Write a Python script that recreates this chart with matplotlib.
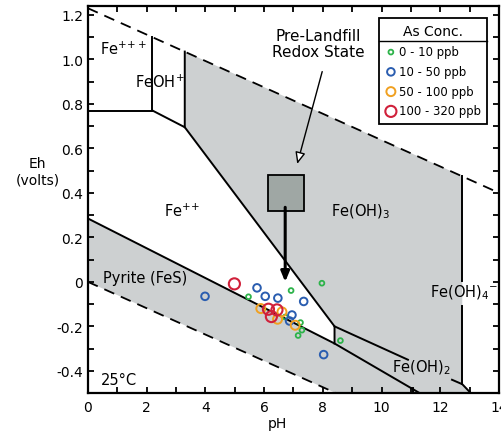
import numpy as np
import matplotlib
matplotlib.use("Agg")
import matplotlib.pyplot as plt
from matplotlib.lines import Line2D
from matplotlib.patches import Rectangle
from matplotlib.transforms import IdentityTransform

plt.rcParams['font.family'] = ['DejaVu Sans']
plt.rcParams['font.size'] = 10
plt.rcParams['axes.unicode_minus'] = False

# stability field boundaries (pH, Eh)
water_hi_ph = [0, 14]
water_hi_eh = [1.23, 0.40]
water_lo_ph = [0, 8.45]
water_lo_eh = [0.0, -0.5]

fe3_ph = [0, 2.2, 2.2]
fe3_eh = [0.77, 0.77, 1.10]
feoh_ph = [2.2, 3.3, 3.3]
feoh_eh = [0.77, 0.695, 1.035]
fe2_ph = [3.3, 8.4, 8.4]
fe2_eh = [0.695, -0.20, -0.277]
pyrite_ph = [0, 8.4, 11.3]
pyrite_eh = [0.285, -0.277, -0.5]
feoh2_a_ph = [8.4, 10.9]
feoh2_a_eh = [-0.20, -0.35]
feoh2_b_ph = [12.4, 12.75, 13.04]
feoh2_b_eh = [-0.44, -0.46, -0.5]
feoh4_lo_ph = [12.75, 12.75]
feoh4_lo_eh = [-0.46, -0.11]
feoh4_hi_ph = [12.75, 12.75]
feoh4_hi_eh = [0.005, 0.475]
small_ph = [11.06, 11.06]
small_eh = [-0.478, -0.5]

# shaded (solid phase) region
grey_ph = [3.3, 12.75, 12.75, 13.04, 8.45, 0, 0, 8.4, 8.4, 3.3]
grey_eh = [1.035, 0.475, -0.46, -0.5, -0.5, 0.0, 0.285, -0.277, -0.20, 0.695]

# pre-landfill redox box
box_ph = [6.15, 7.35]
box_eh = [0.32, 0.48]

# arsenic samples
green_ph = [5.47, 6.92, 7.97, 6.72, 7.24, 7.29, 7.16, 8.60]
green_eh = [-0.067, -0.039, -0.006, -0.158, -0.183, -0.217, -0.241, -0.264]
blue_ph = [3.99, 5.76, 6.04, 6.47, 7.35, 6.95, 6.87, 8.03]
blue_eh = [-0.065, -0.027, -0.065, -0.073, -0.088, -0.149, -0.176, -0.327]
orange_ph = [5.89, 6.61, 6.46, 7.06]
orange_eh = [-0.120, -0.135, -0.168, -0.195]
red_ph = [4.99, 6.15, 6.44, 6.25]
red_eh = [-0.009, -0.123, -0.126, -0.156]

fig = plt.figure(figsize=(5.02, 4.35), dpi=100)
ax = fig.add_axes([0.175, 0.094, 0.819, 0.890])

grey = '#cdd0d1'
ax.fill(grey_ph, grey_eh, color=grey, lw=0, zorder=1)

dash = dict(color='black', lw=1.3, ls=(0, (6, 4)), zorder=3)
ax.plot(water_hi_ph, water_hi_eh, **dash)
ax.plot(water_lo_ph, water_lo_eh, **dash)

solid = dict(color='black', lw=1.4, zorder=3, solid_joinstyle='miter')
for xs, ys in [(fe3_ph, fe3_eh), (feoh_ph, feoh_eh), (fe2_ph, fe2_eh),
               (pyrite_ph, pyrite_eh), (feoh2_a_ph, feoh2_a_eh),
               (feoh2_b_ph, feoh2_b_eh), (feoh4_lo_ph, feoh4_lo_eh),
               (feoh4_hi_ph, feoh4_hi_eh), (small_ph, small_eh)]:
    ax.plot(xs, ys, **solid)

# redox box + arrow
ax.add_patch(Rectangle((box_ph[0], box_eh[0]), box_ph[1] - box_ph[0], box_eh[1] - box_eh[0],
                       facecolor='#9fa7a4', edgecolor='black', lw=1.3, zorder=4))
ax.annotate('', xy=(6.72, 0.0), xytext=(6.72, 0.335),
            arrowprops=dict(arrowstyle='-|>,head_length=0.6,head_width=0.25',
                            color='black', lw=2.2, shrinkA=0, shrinkB=0), zorder=5)
ax.text(7.85, 1.07, 'Pre-Landfill\nRedox State', ha='center', va='center',
        fontsize=11, linespacing=1.05, zorder=5)
ax.annotate('', xy=(7.13, 0.53), xytext=(7.98, 0.945),
            arrowprops=dict(arrowstyle='-|>,head_length=0.7,head_width=0.3',
                            fc='white', ec='black', lw=1.0, shrinkA=0, shrinkB=0),
            zorder=5)

# samples
kw = dict(facecolors='none', zorder=6)
ax.scatter(green_ph, green_eh, s=12, edgecolors='#2db34a', linewidths=1.3, label='0 - 10 ppb', **kw)
ax.scatter(blue_ph, blue_eh, s=30, edgecolors='#2a5db0', linewidths=1.4, label='10 - 50 ppb', **kw)
ax.scatter(orange_ph, orange_eh, s=42, edgecolors='#f0a020', linewidths=1.4, label='50 - 100 ppb', **kw)
ax.scatter(red_ph, red_eh, s=64, edgecolors='#d0203a', linewidths=1.5, label='100 - 320 ppb', **kw)

# field labels
lab = dict(fontsize=10.5, va='center')
ax.text(0.42, 1.05, r'Fe$^{+\!+\!+}$', ha='left', **lab)
ax.text(2.46, 0.90, 'FeOH$^{+}$', ha='center', **lab)
ax.text(3.2, 0.32, r'Fe$^{+\!+}$', ha='center', **lab)
ax.text(9.3, 0.32, 'Fe(OH)$_3$', ha='center', **lab)
ax.text(0.5, 0.02, 'Pyrite (FeS)', ha='left', **lab)
ax.text(11.65, -0.045, 'Fe(OH)$_4$$^{-}$', ha='left', **lab)
ax.text(10.37, -0.38, 'Fe(OH)$_2$', ha='left', **lab)
ax.text(0.45, -0.44, '25°C', ha='left', **lab)

ax.set_xlim(0, 14)
ax.set_ylim(-0.5, 1.24)
ax.set_xticks(np.arange(0, 15, 2))
ax.set_xticks(np.arange(1, 14, 2), minor=True)
yt = np.round(np.arange(-0.4, 1.21, 0.2), 1)
ax.set_yticks(yt)
ax.set_yticklabels(['0' if abs(v) < 1e-9 else f'{v:.1f}' for v in yt])
ax.set_yticks(np.round(np.arange(-0.5, 1.21, 0.1), 1), minor=True)
ax.tick_params(which='both', direction='in', top=True, right=True, length=4, width=1.3,
               labelsize=10)
ax.tick_params(axis='x', pad=5)
for sp in ax.spines.values():
    sp.set_linewidth(1.6)

ax.set_xlabel('pH', fontsize=10)
ax.xaxis.set_label_coords(0.462, -0.058)
ax.set_ylabel('Eh\n(volts)', rotation=0, ha='center', va='center', fontsize=10, linespacing=1.25)
ax.yaxis.set_label_coords(-0.122, 0.574)

leg = ax.legend(loc='upper right', bbox_to_anchor=(0.972, 0.969), title='As Conc.',
                fontsize=8.4, title_fontsize=10, frameon=True, fancybox=False,
                edgecolor='black', framealpha=1, handletextpad=0.2, borderpad=0.55,
                labelspacing=0.58, handlelength=1.0, borderaxespad=0)
leg.get_frame().set_linewidth(1.3)
leg.set_zorder(10)

fig.canvas.draw()
tb = leg.get_title().get_window_extent()
fb = leg.get_frame().get_window_extent()
ysep = tb.y0 - 3
fig.add_artist(Line2D([fb.x0, fb.x1], [ysep, ysep], transform=IdentityTransform(),
                      color='black', lw=1.0, zorder=11))

fig.savefig('out.png', dpi=100)
